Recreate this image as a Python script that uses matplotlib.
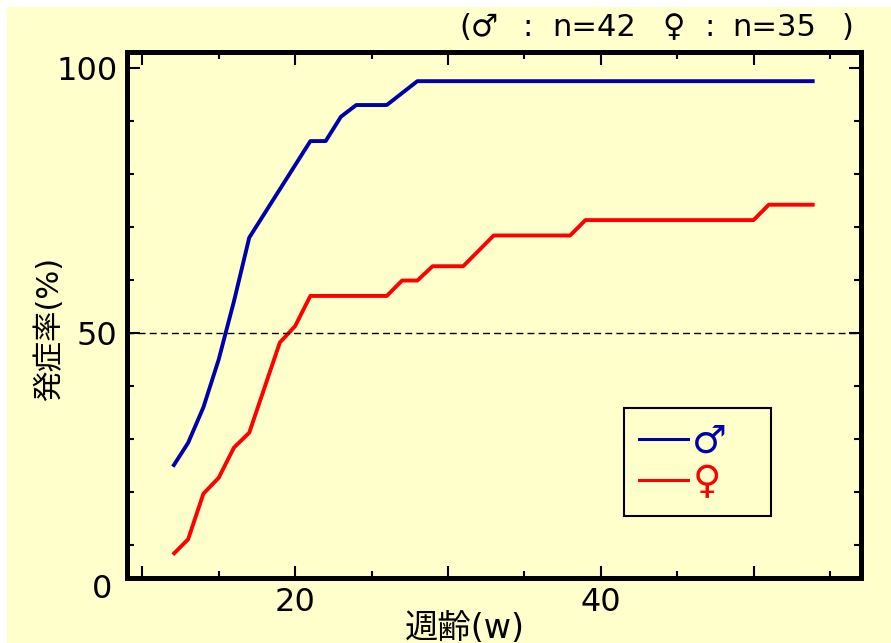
import matplotlib.pyplot as plt
from matplotlib.patches import Rectangle
from matplotlib.lines import Line2D

plt.rcParams['font.family'] = ['DejaVu Sans', 'Noto Sans CJK JP']

# cumulative onset rate (%) by age in weeks
male_weeks = [12, 13, 14, 15, 16, 17, 21, 22, 23, 24, 26, 28, 54]
male_pct = [24.8, 29.3, 36.0, 45.0, 56.0, 68.0, 86.2, 86.2, 90.8, 93.0, 93.0, 97.5, 97.5]

female_weeks = [12, 13, 14, 15, 16, 17, 19, 20, 21, 26, 27, 28, 29, 31, 33, 38, 39, 50, 51, 54]
female_pct = [8.2, 11.1, 19.7, 22.7, 28.4, 31.2, 48.2, 51.3, 57.0, 57.0, 59.9, 59.9,
              62.6, 62.6, 68.4, 68.4, 71.3, 71.3, 74.2, 74.2]

x_major = [10, 20, 30, 40, 50]
x_labels = ['', '20', '', '40', '']
y_major = [50, 100]
y_minor = [10, 20, 30, 40, 60, 70, 80, 90]

bg = '#FFFFCC'
blue = '#0000A8'
red = '#FF0000'

W, H = 891, 643

fig = plt.figure(figsize=(8.91, 6.43), dpi=100, facecolor='white')
fig.patches.append(Rectangle((7 / W, 0), 1, 1 - 7 / H, transform=fig.transFigure,
                             facecolor=bg, edgecolor='none', zorder=-10))

ax = fig.add_axes([127 / W, 1 - 577.5 / H, 733.5 / W, 525.5 / H])
ax.set_facecolor(bg)

ax.plot(male_weeks, male_pct, color=blue, lw=2.8, solid_capstyle='butt')
ax.plot(female_weeks, female_pct, color=red, lw=2.8, solid_capstyle='butt')
ax.axhline(50, color='black', lw=1.0, ls=(0, (5, 3)))

ax.set_xlim(9.0, 57.0)
ax.set_ylim(3.9, 103.0)
ax.set_xticks(x_major)
ax.set_xticklabels(x_labels)
ax.set_xticks([15, 25, 35, 45, 55], minor=True)
ax.set_yticks(y_major)
ax.set_yticks(y_minor, minor=True)

ax.tick_params(which='both', direction='in', top=True, right=True, width=1.5, colors='black',
               labelsize=23)
ax.tick_params(which='major', length=9, pad=7)
ax.tick_params(which='minor', length=5)
for s in ax.spines.values():
    s.set_linewidth(3.6)

fig.text(102 / W, 1 - 590 / H, '0', fontsize=23, ha='center', va='center')
fig.text(465 / W, 1 - 628 / H, '週齢(w)', fontsize=24, ha='center', va='center')
fig.text(49 / W, 1 - 329 / H, '発症率(%)', fontsize=22, rotation=90, ha='center', va='center')

# sample sizes, spread out like the original header
ty = 1 - 28 / H
fig.text(459 / W, ty, '(♂', fontsize=22, ha='left', va='center')
fig.text(528 / W, ty, ':', fontsize=22, ha='center', va='center')
fig.text(552 / W, ty, 'n=42', fontsize=22, ha='left', va='center')
fig.text(674 / W, ty, '♀', fontsize=22, ha='center', va='center')
fig.text(710 / W, ty, ':', fontsize=22, ha='center', va='center')
fig.text(732 / W, ty, 'n=35', fontsize=22, ha='left', va='center')
fig.text(853 / W, ty, ')', fontsize=22, ha='right', va='center')

handles = [Line2D([], [], color=blue, lw=2.2), Line2D([], [], color=red, lw=2.2)]
leg = ax.legend(handles, ['♂', '♀'], loc='lower left',
                bbox_to_anchor=(0.678, 0.117, 0.2, 0.2), mode='expand',
                borderaxespad=0, fontsize=28, handlelength=1.25, handletextpad=0.12,
                labelspacing=0.06, borderpad=0.38, fancybox=False, labelcolor='linecolor')
leg.get_frame().set_facecolor(bg)
leg.get_frame().set_edgecolor('black')
leg.get_frame().set_linewidth(1.5)
leg.get_frame().set_alpha(1)

fig.savefig('out.png', dpi=100, facecolor='white')
